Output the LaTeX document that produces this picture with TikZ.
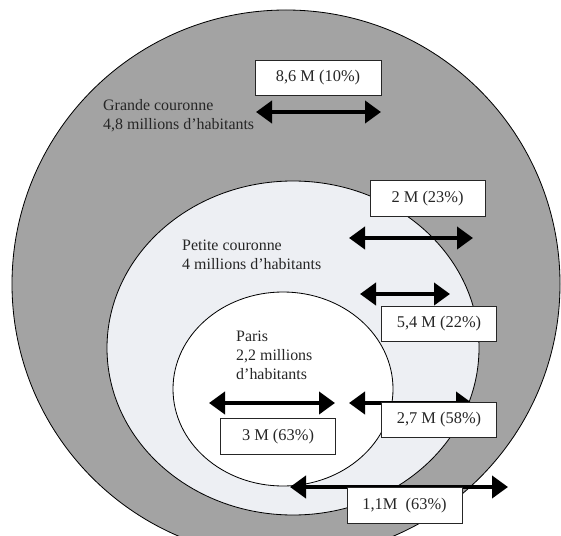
\documentclass[tikz,border=0pt]{standalone}
\usepackage{fontspec}
\setmainfont{Liberation Serif}
\usetikzlibrary{arrows.meta}
\definecolor{grandegray}{RGB}{163,163,163}
\definecolor{petitegray}{RGB}{237,239,243}
\tikzset{
zone/.style={draw=black, line width=0.7pt},
flux/.style={line width=3.7pt, {Triangle[length=0.48cm,width=0.66cm]}-{Triangle[length=0.48cm,width=0.66cm]}},
valbox/.style={draw=black!85, fill=white, line width=0.6pt, minimum width=3.45cm, minimum height=1.07cm, inner sep=0pt, font=\fontsize{14}{16}\selectfont, text=black!85},
zonelabel/.style={align=left, anchor=west, inner sep=0pt, font=\fontsize{13.6}{16.2}\selectfont, text=black!85}
}

\begin{document}
\begin{tikzpicture}[x=0.03cm, y=-0.03cm]
    \useasboundingbox (0,0) rectangle (561,536);
    % the three zones
    \fill[white] (0,0) rectangle (561,536);
    \draw[zone, fill=grandegray] (286,284) circle [radius=274];
    \draw[zone, fill=petitegray] (293,348) ellipse [x radius=186, y radius=167];
    \draw[zone, fill=white] (283,389) ellipse [x radius=110, y radius=97];

    \node[zonelabel] (grande) at (103,115.5) {Grande couronne\\4,8 millions d’habitants};
    \node[zonelabel] (petite) at (182,254.5) {Petite couronne\\4 millions d’habitants};
    \node[zonelabel] (paris) at (236,355.5) {Paris\\2,2 millions\\d’habitants};

    % flows
    \coordinate (g1) at (256,112);
    \coordinate (g2) at (381,112);
    \coordinate (p1) at (349,238);
    \coordinate (p2) at (473,238);
    \coordinate (q1) at (360,294);
    \coordinate (q2) at (450,294);
    \coordinate (r1) at (209,403);
    \coordinate (r2) at (335,403);
    \coordinate (s1) at (349,403);
    \coordinate (s2) at (472,403);
    \coordinate (t1) at (290,487);
    \coordinate (t2) at (508,487);
    \draw[flux] (g1) -- (g2);
    \draw[flux] (p1) -- (p2);
    \draw[flux] (q1) -- (q2);
    \draw[flux] (r1) -- (r2);
    \draw[flux] (s1) -- (s2);
    \draw[flux] (t1) -- (t2);

    \node[valbox, minimum width=3.78cm] (b86) at (318,78) {8,6 M (10\%)};
    \node[valbox] (b2) at (427.5,198.5) {2 M (23\%)};
    \node[valbox] (b54) at (439,324) {5,4 M (22\%)};
    \node[valbox] (b3) at (278,436.5) {3 M (63\%)};
    \node[valbox] (b27) at (439,420) {2,7 M (58\%)};
    \node[valbox] (b11) at (404.5,505.5) {1,1M\ \ (63\%)};
\end{tikzpicture}
\end{document}
